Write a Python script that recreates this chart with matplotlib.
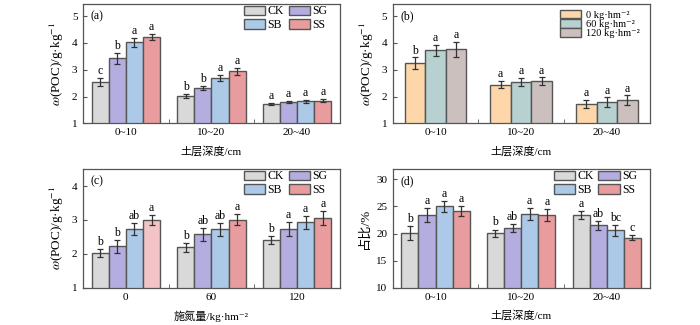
import matplotlib
matplotlib.use("Agg")
import matplotlib.pyplot as plt
import numpy as np
from matplotlib.patches import Patch

plt.rcParams['font.family'] = ['Liberation Serif', 'Noto Sans CJK SC', 'DejaVu Sans']
plt.rcParams['mathtext.fontset'] = 'stix'
plt.rcParams['font.size'] = 8

# treatments and depths
depths = ['0~10', '10~20', '20~40']
nrates = ['0', '60', '120']
treat = ['CK', 'SG', 'SB', 'SS']
treat_col = ['#d9d9d9', '#b3ade0', '#acc9e8', '#e89c9e']
n_lab = ['0 kg·hm⁻²', '60 kg·hm⁻²', '120 kg·hm⁻²']
n_col = ['#fdd6aa', '#b6d1d0', '#cbc0be']

# (a) POC by straw treatment and depth
a_val = [[2.55, 2.03, 1.72], [3.43, 2.32, 1.79], [4.02, 2.70, 1.82], [4.23, 2.94, 1.85]]
a_err = [[0.14, 0.08, 0.04], [0.20, 0.09, 0.05], [0.17, 0.12, 0.06], [0.11, 0.14, 0.06]]
a_let = [['c', 'b', 'a'], ['b', 'b', 'a'], ['a', 'a', 'a'], ['a', 'a', 'a']]

# (b) POC by N rate and depth
b_val = [[3.25, 2.44, 1.73], [3.72, 2.53, 1.79], [3.76, 2.57, 1.87]]
b_err = [[0.21, 0.14, 0.15], [0.20, 0.15, 0.18], [0.29, 0.14, 0.17]]
b_let = [['b', 'a', 'a'], ['a', 'a', 'a'], ['a', 'a', 'a']]

# (c) POC by straw treatment and N rate
c_val = [[2.02, 2.19, 2.40], [2.22, 2.58, 2.73], [2.72, 2.72, 2.93], [2.99, 3.00, 3.06]]
c_err = [[0.12, 0.14, 0.12], [0.20, 0.19, 0.21], [0.18, 0.19, 0.19], [0.14, 0.16, 0.21]]
c_let = [['b', 'b', 'b'], ['b', 'ab', 'a'], ['ab', 'ab', 'a'], ['a', 'a', 'a']]

# (d) POC share of SOC
d_val = [[20.06, 20.06, 23.4], [23.4, 21.0, 21.5], [25.0, 23.56, 20.6], [24.2, 23.4, 19.26]]
d_err = [[1.29, 0.67, 0.74], [1.30, 0.80, 0.86], [0.95, 1.07, 1.04], [0.90, 1.17, 0.50]]
d_let = [['b', 'b', 'a'], ['a', 'ab', 'ab'], ['a', 'a', 'bc'], ['a', 'a', 'c']]

ylab_poc = r'$\omega$(POC)/g·kg$^{-1}$'
edge = '#555555'

fig = plt.figure(figsize=(7, 3.25), dpi=100)
pos = [[0.1186, 0.6206, 0.367, 0.367], [0.561, 0.6206, 0.367, 0.367],
       [0.1186, 0.1148, 0.367, 0.365], [0.561, 0.1148, 0.367, 0.365]]


def panel(ax, vals, errs, lets, colors, width, xt, ylim, yticks, ylab, xlab, tag, off,
          bar_colors=None):
    x = np.arange(3)
    n = len(vals)
    for i in range(n):
        xs = x + (i - (n - 1) / 2) * width
        cols = colors[i] if bar_colors is None else bar_colors[i]
        ax.bar(xs, vals[i], width, bottom=0, color=cols, edgecolor=edge, linewidth=1.0)
        ax.errorbar(xs, vals[i], yerr=errs[i], fmt='none', ecolor='#333333',
                    elinewidth=0.9, capsize=2, capthick=0.9)
        for j in range(3):
            ax.text(xs[j], vals[i][j] + errs[i][j] + off, lets[i][j],
                    ha='center', va='bottom', fontsize=8.5)
    ax.set_xlim(-0.5, 2.5)
    ax.set_ylim(*ylim)
    ax.set_yticks(yticks)
    ax.set_xticks(x)
    ax.set_xticklabels(xt, fontsize=8)
    ax.set_xticks([0.5, 1.5], minor=True)
    ax.tick_params(axis='x', which='major', length=0, pad=3.5)
    ax.tick_params(axis='x', which='minor', direction='in', length=3, color=edge)
    ax.tick_params(axis='y', direction='in', length=3, color=edge, labelsize=8, pad=4)
    ax.set_ylabel(ylab, fontsize=9.5, labelpad=4)
    ax.set_xlabel(xlab, fontsize=8, labelpad=6)
    ax.text(0.03, 0.9, tag, transform=ax.transAxes, ha='left', va='center', fontsize=8.5)
    for s in ax.spines.values():
        s.set_color(edge)
        s.set_linewidth(0.9)


def treat_legend(ax):
    hs = [Patch(facecolor=treat_col[k], edgecolor=edge, label=treat[k]) for k in [0, 2, 1, 3]]
    ax.legend(handles=hs, ncol=2, loc='upper right', bbox_to_anchor=(0.96, 1.008),
              frameon=False, fontsize=8.5, handlelength=1.8, handleheight=0.85,
              handletextpad=0.2, columnspacing=0.4, labelspacing=0.15,
              borderaxespad=0.1, borderpad=0.1)


ax = fig.add_axes(pos[0])
panel(ax, a_val, a_err, a_let, treat_col, 0.2, depths, (1, 5.45), [1, 2, 3, 4, 5],
      ylab_poc, '土层深度/cm', '(a)', 0.03)
treat_legend(ax)

ax = fig.add_axes(pos[1])
panel(ax, b_val, b_err, b_let, n_col, 0.24, depths, (1, 5.45), [1, 2, 3, 4, 5],
      ylab_poc, '土层深度/cm', '(b)', 0.03)
hs = [Patch(facecolor=n_col[k], edgecolor=edge, label=n_lab[k]) for k in range(3)]
ax.legend(handles=hs, loc='upper right', bbox_to_anchor=(0.97, 0.97), frameon=False,
          fontsize=7.5, handlelength=1.95, handleheight=0.9, handletextpad=0.5,
          labelspacing=-0.05, borderaxespad=0.1, borderpad=0.1)

ax = fig.add_axes(pos[2])
c_cols = [treat_col[0], treat_col[1], treat_col[2], ['#f2c4c8', treat_col[3], treat_col[3]]]
panel(ax, c_val, c_err, c_let, treat_col, 0.2, nrates, (1, 4.5), [1, 2, 3, 4],
      ylab_poc, '施氮量/kg·hm⁻²', '(c)', 0.03, bar_colors=c_cols)
treat_legend(ax)

ax = fig.add_axes(pos[3])
panel(ax, d_val, d_err, d_let, treat_col, 0.2, depths, (10, 31.9), [10, 15, 20, 25, 30],
      '占比/%', '土层深度/cm', '(d)', 0.2)
treat_legend(ax)

fig.savefig('out.png', dpi=100)
